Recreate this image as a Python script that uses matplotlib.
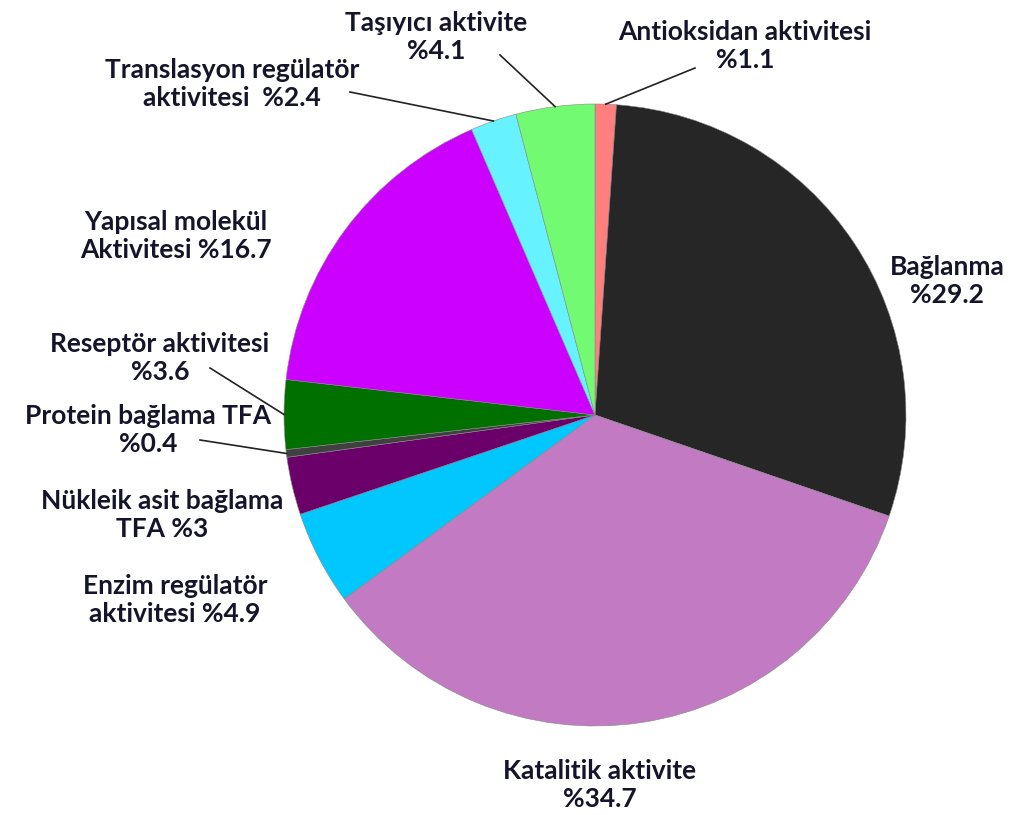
import matplotlib
matplotlib.use('Agg')
import matplotlib.pyplot as plt
import numpy as np

plt.rcParams['font.family'] = ['Lato', 'DejaVu Sans']

# Slices, clockwise from 12 o'clock
labels = [
    'Antioksidan aktivitesi\n%1.1',
    'Bağlanma\n%29.2',
    'Katalitik aktivite\n%34.7',
    'Enzim regülatör\naktivitesi %4.9',
    'Nükleik asit bağlama\nTFA %3',
    'Protein bağlama TFA\n%0.4',
    'Reseptör aktivitesi\n%3.6',
    'Yapısal molekül\nAktivitesi %16.7',
    'Translasyon regülatör\naktivitesi  %2.4',
    'Taşıyıcı aktivite\n%4.1',
]
values = [1.1, 29.2, 34.7, 4.9, 3.0, 0.4, 3.6, 16.7, 2.4, 4.1]
colors = ['#FF7F7F', '#262626', '#C27AC2', '#00C8FF', '#6B006B',
          '#404040', '#007000', '#CC00FF', '#66F2FF', '#73FA73']

# label centres (pixel in reference image), and leader-line start if any
label_px = [(745, 46), (947, 281), (600, 785), (175, 600), (162, 515),
            (148, 430), (160, 358), (176, 236), (232, 84), (436, 37)]
line_from_px = [(695, 68), None, None, None, None,
                (200, 440), (210, 368), None, (350, 92), (500, 55)]

W, H = 1013, 815
cx, cy, r = 595, 415, 311

fig = plt.figure(figsize=(W / 100, H / 100), dpi=100)
ax = fig.add_axes([(cx - r) / W, (H - cy - r) / H, 2 * r / W, 2 * r / H])
wedges, _ = ax.pie(values, colors=colors, startangle=90, counterclock=False,
                   radius=1, wedgeprops=dict(edgecolor='#888888', linewidth=0.4))
ax.set_xlim(-1, 1)
ax.set_ylim(-1, 1)
ax.set_aspect('equal')
ax.axis('off')


def to_data(px, py):
    return (px - cx) / r, (cy - py) / r


for w, lab, lp, lf in zip(wedges, labels, label_px, line_from_px):
    tx, ty = to_data(*lp)
    ax.text(tx, ty, lab, ha='center', va='center', fontsize=19, fontweight='bold',
            color='#14142a', linespacing=1.2, clip_on=False)
    if lf is not None:
        ang = np.deg2rad((w.theta1 + w.theta2) / 2)
        ex, ey = np.cos(ang), np.sin(ang)
        sx, sy = to_data(*lf)
        ax.plot([sx, ex], [sy, ey], color='#222222', lw=1.2, clip_on=False)

fig.savefig('out.png', dpi=100)
